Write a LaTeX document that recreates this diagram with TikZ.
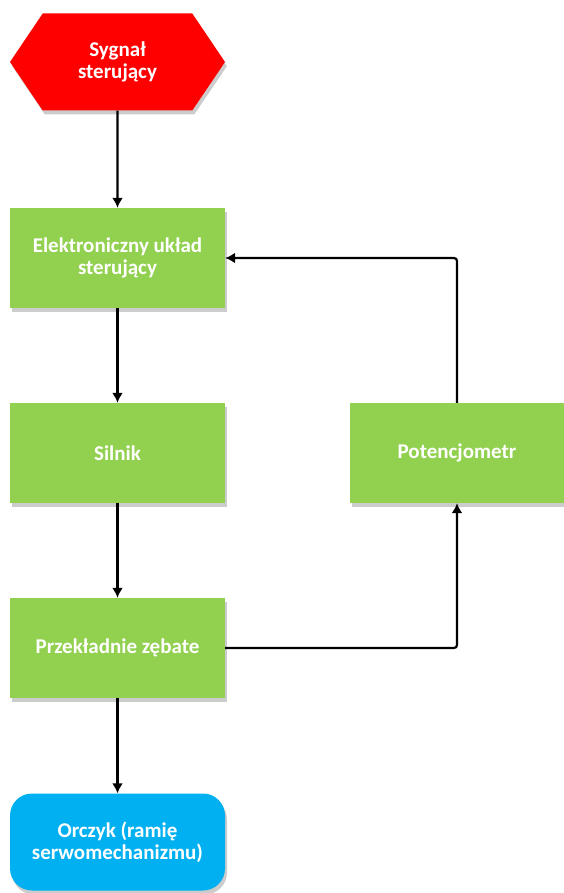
\documentclass[tikz,border=0pt]{standalone}
\usepackage{fontspec}
\setmainfont{Carlito}
\usepackage{xcolor}
\usepackage{tikz}
\usetikzlibrary{shapes.symbols,shadows,arrows.meta}

\definecolor{sigred}{HTML}{FF0000}
\definecolor{boxgreen}{HTML}{92D050}
\definecolor{armblue}{HTML}{00B0F0}

\tikzset{
  blk/.style={rectangle, fill=boxgreen, minimum width=215pt, minimum height=100pt,
    text=white, align=center, font=\fontsize{21}{22}\selectfont\bfseries,
    drop shadow={shadow xshift=2pt, shadow yshift=-4pt, fill=black!40, opacity=.5}},
  hexa/.style={signal, signal to=west and east, signal pointer angle=112, fill=sigred,
    minimum width=215pt, minimum height=97pt, inner sep=0pt,
    text=white, align=center, font=\fontsize{21}{22}\selectfont\bfseries,
    drop shadow={shadow xshift=2pt, shadow yshift=-4pt, fill=black!40, opacity=.5}},
  arm/.style={blk, fill=armblue, rounded corners=22pt, minimum height=97pt},
  flow/.style={->, line width=2.2pt, rounded corners=3pt}
}

\begin{document}
\begin{tikzpicture}[>={Latex[length=10pt,width=11pt]}, x=1pt, y=1pt]
  \useasboundingbox (0,0) rectangle (564,-893);
  \node [hexa] (S0) at (117.5,-62) {Sygnał\\sterujący};
  \node [blk, below of=S0, node distance=196pt] (S1) {Elektroniczny układ\\sterujący};
  \node [blk, below of=S1, node distance=195pt] (S2) {Silnik};
  \node [blk, right of=S2, node distance=339.5pt] (P) {Potencjometr};
  \node [blk, below of=S2, node distance=195pt] (S3) {Przekładnie zębate};
  \node [arm, below of=S3, node distance=194pt] (S4) {Orczyk (ramię\\serwomechanizmu)};

  \draw [flow] (S0) -- (S1);
  \draw [flow] (S1) -- (S2);
  \draw [flow] (S2) -- (S3);
  \draw [flow] (S3) -- (S4);
  % sprzezenie zwrotne
  \draw [flow] (S3.east) -| (P.south);
  \draw [flow] (P.north) |- (S1.east);
\end{tikzpicture}
\end{document}
